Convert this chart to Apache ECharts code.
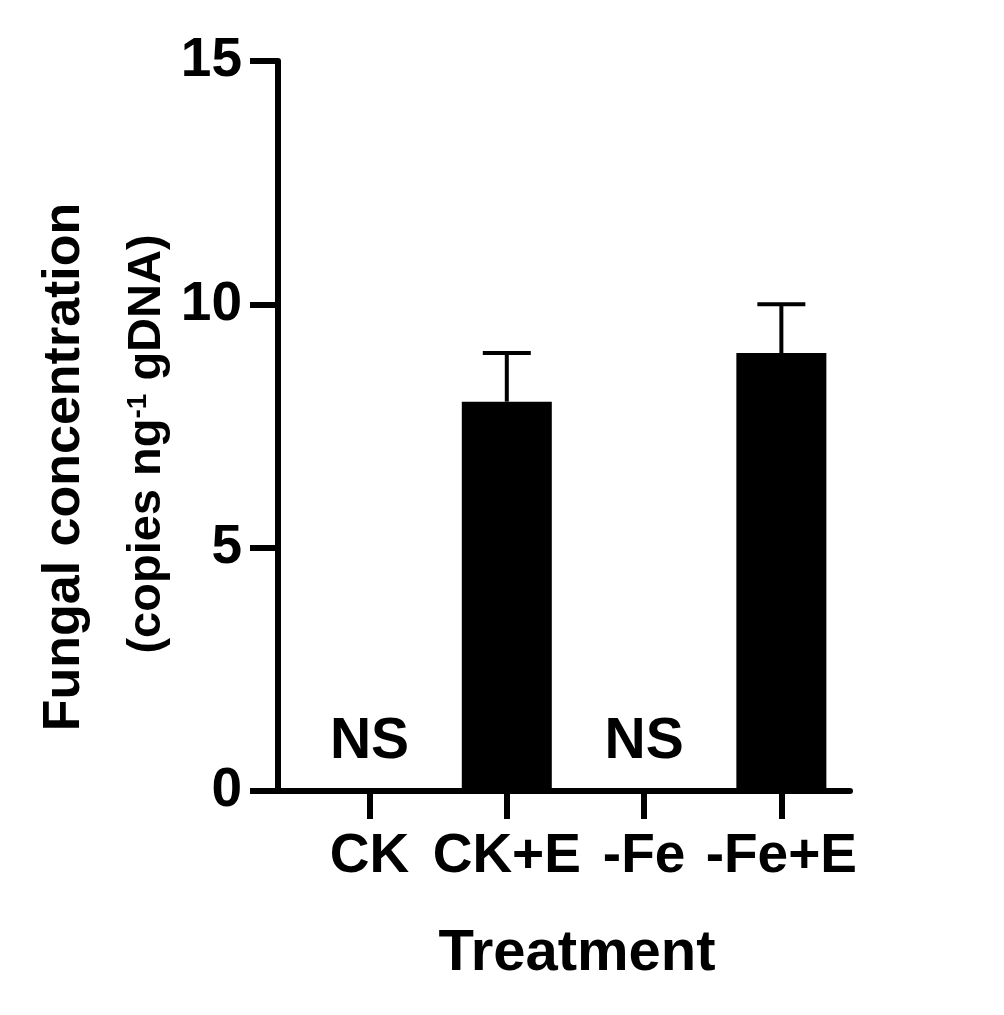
<!DOCTYPE html>
<html>
<head>
<meta charset="utf-8">
<script src="https://cdn.jsdelivr.net/npm/echarts@6/dist/echarts.min.js"></script>
<style>
html,body{margin:0;padding:0;background:#fff;}
#chart{width:1004px;height:1015px;}
</style>
</head>
<body>
<div id="chart"></div>
<script>
var categories = ['CK', 'CK+E', '-Fe', '-Fe+E'];
var means = [0, 8, 0, 9];
var errors = [0, 1, 0, 1];
var annotations = ['NS', '', 'NS', ''];
var yTicks = [0, 5, 10, 15];

var FONT = '"Liberation Sans", Arial, Helvetica, sans-serif';

var positions = categories.map(function (c, i) { return i; });
var barData = means.map(function (v, i) { return [positions[i], v]; });
var errData = means.map(function (v, i) { return [positions[i], v, v + errors[i]]; })
  .filter(function (d, i) { return errors[i] > 0; });

var chart = echarts.init(document.getElementById('chart'));
chart.setOption({
  animation: false,
  backgroundColor: '#fff',
  grid: { left: 278, right: 154, top: 61, bottom: 224, containLabel: false },
  xAxis: {
    type: 'value',
    min: -2 / 3,
    max: 3.5,
    name: 'Treatment',
    nameLocation: 'middle',
    nameGap: 134,
    nameTextStyle: { fontFamily: FONT, fontWeight: 'bold', fontSize: 58, color: '#000', padding: [0, 0, 0, 26], verticalAlign: 'top' },
    axisLine: { show: true, onZero: false, lineStyle: { color: '#000', width: 6 } },
    axisTick: { show: true, inside: false, length: 28, customValues: positions, lineStyle: { color: '#000', width: 6 } },
    axisLabel: {
      show: true, margin: 38, customValues: positions,
      fontFamily: FONT, fontWeight: 'bold', fontSize: 55, color: '#000',
      formatter: function (v) { return categories[Math.round(v)]; }
    },
    splitLine: { show: false }
  },
  yAxis: [{
    type: 'value',
    min: 0, max: 15, interval: 5,
    position: 'left',
    name: 'Fungal concentration',
    nameLocation: 'middle',
    nameRotate: 90,
    nameGap: 187,
    nameTextStyle: { fontFamily: FONT, fontWeight: 'bold', fontSize: 52, color: '#000', padding: [0, 82, 0, 0] },
    axisLine: { show: true, onZero: false, lineStyle: { color: '#000', width: 6 } },
    axisTick: { show: true, inside: false, length: 28, lineStyle: { color: '#000', width: 6 } },
    axisLabel: {
      margin: 36, fontFamily: FONT, fontWeight: 'bold', fontSize: 55, color: '#000',
      customValues: yTicks
    },
    splitLine: { show: false }
  }, {
    type: 'value',
    min: 0, max: 15, interval: 5,
    position: 'left',
    offset: 0,
    name: '(copies ng{sup|-1} gDNA)',
    nameLocation: 'middle',
    nameRotate: 90,
    nameGap: 107,
    nameTextStyle: {
      fontFamily: FONT, fontWeight: 'bold', fontSize: 47, color: '#000', padding: [0, 36, 0, 0],
      rich: { sup: { fontFamily: FONT, fontWeight: 'bold', fontSize: 28, color: '#000', verticalAlign: 'top', padding: [0, 0, 18, 0] } }
    },
    axisLine: { show: false, onZero: false },
    axisTick: { show: false },
    axisLabel: { show: false },
    splitLine: { show: false }
  }],
  series: [{
    type: 'bar',
    data: barData,
    barWidth: 90,
    itemStyle: { color: '#000' },
    label: {
      show: true,
      position: 'top',
      distance: 20,
      fontFamily: FONT, fontWeight: 'bold', fontSize: 57, color: '#000',
      formatter: function (p) { return annotations[p.dataIndex]; }
    },
    z: 2
  }, {
    type: 'custom',
    data: errData,
    renderItem: function (params, api) {
      var x = api.value(0);
      var top = api.coord([x, api.value(2)]);
      var base = api.coord([x, api.value(1)]);
      var half = 24;
      return {
        type: 'group',
        children: [{
          type: 'line',
          shape: { x1: top[0], y1: top[1], x2: base[0], y2: base[1] },
          style: { stroke: '#000', lineWidth: 4 }
        }, {
          type: 'line',
          shape: { x1: top[0] - half, y1: top[1], x2: top[0] + half, y2: top[1] },
          style: { stroke: '#000', lineWidth: 4 }
        }]
      };
    },
    z: 3
  }]
});
</script>
</body>
</html>
